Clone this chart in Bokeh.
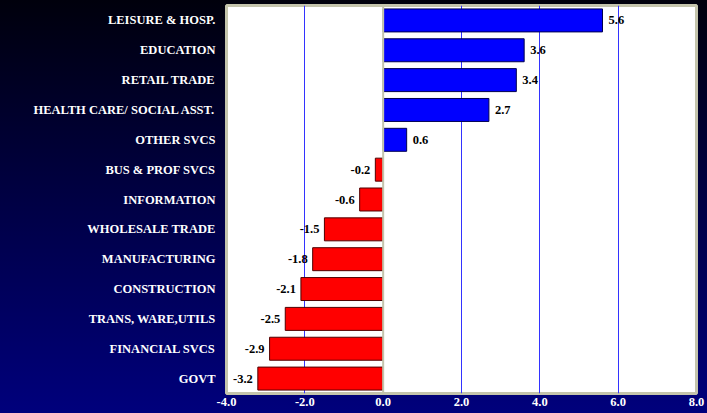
from bokeh.plotting import figure
from bokeh.models import (ColumnDataSource, FactorRange, Range1d, FixedTicker,
                          NumeralTickFormatter, Span)
from bokeh.core.properties import value
from bokeh.embed import file_html
from bokeh.resources import INLINE

categories = ["LEISURE & HOSP.", "EDUCATION", "RETAIL TRADE",
              "HEALTH CARE/ SOCIAL ASST.", "OTHER SVCS", "BUS & PROF SVCS",
              "INFORMATION", "WHOLESALE TRADE", "MANUFACTURING",
              "CONSTRUCTION", "TRANS, WARE,UTILS", "FINANCIAL SVCS", "GOVT"]
values = [5.6, 3.6, 3.4, 2.7, 0.6, -0.2, -0.6, -1.5, -1.8, -2.1, -2.5, -2.9, -3.2]
x_ticks = [-4, -2, 0, 2, 4, 6, 8]
grid_ticks = [-2, 2, 4, 6]

FONT = "Liberation Serif"

colors = ["#0000ff" if v >= 0 else "#ff0000" for v in values]
outlines = ["#000050" if v >= 0 else "#500000" for v in values]
aligns = ["left" if v >= 0 else "right" for v in values]
offsets = [6 if v >= 0 else -5 for v in values]
labels = ["%.1f" % v for v in values]

src = ColumnDataSource(dict(cat=categories, val=values, color=colors,
                            outline=outlines, align=aligns, xoff=offsets,
                            label=labels))

p = figure(width=707, height=413, output_backend="svg", toolbar_location=None,
           y_range=FactorRange(factors=categories[::-1]),
           x_range=Range1d(-4, 8),
           min_border_left=226, min_border_right=11, min_border_top=5,
           min_border_bottom=20)

p.background_fill_color = "white"
p.border_fill_color = None
p.styles = {"background": "linear-gradient(to bottom, #00000c 0%, #000040 45%, #00007c 100%)"}
p.outline_line_color = "#c4c4ac"
p.outline_line_width = 3

p.hbar(y="cat", left=0, right="val", height=0.77, fill_color="color",
       line_color="outline", line_width=1, source=src)

p.add_layout(Span(location=0, dimension="height", line_color="#c4c4ac",
                  line_width=2))

p.text(x="val", y="cat", text="label", text_align="align", x_offset="xoff",
       text_baseline="middle", text_font=value(FONT), text_font_style="bold",
       text_font_size="12.5px", text_color="black", source=src)

p.xaxis.ticker = FixedTicker(ticks=x_ticks)
p.xaxis.formatter = NumeralTickFormatter(format="0.0")
p.xgrid.ticker = FixedTicker(ticks=grid_ticks)
p.xgrid.grid_line_color = "#3333ff"
p.xgrid.grid_line_width = 1
p.ygrid.grid_line_color = None

for ax in (p.xaxis, p.yaxis):
    ax.axis_line_color = None
    ax.major_tick_line_color = None
    ax.minor_tick_line_color = None
    ax.major_tick_out = 0
    ax.major_tick_in = 0
    ax.major_label_text_color = "white"
    ax.major_label_text_font = FONT
    ax.major_label_text_font_style = "bold"
    ax.major_label_text_font_size = "12.5px"

p.xaxis.major_label_standoff = 4
p.yaxis.major_label_standoff = 11

open("out.html", "w").write(file_html(p, INLINE))
